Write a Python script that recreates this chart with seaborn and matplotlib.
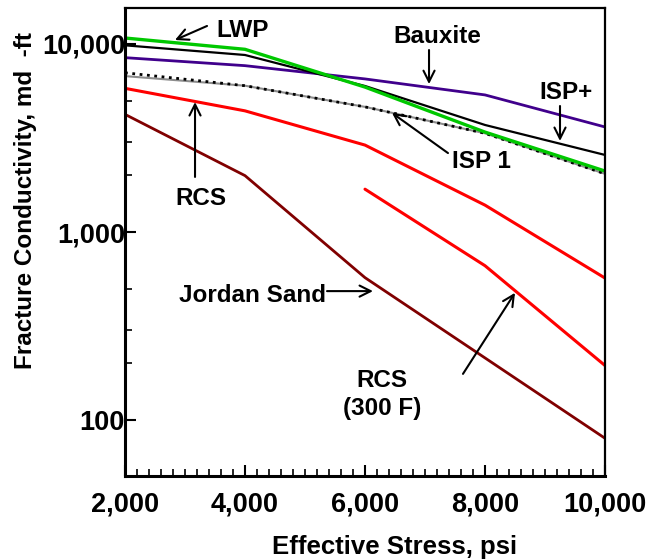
import matplotlib
matplotlib.use("Agg")
import matplotlib.pyplot as plt
import matplotlib.ticker as mticker
import pandas as pd
import seaborn as sns

# effective stress (psi) and conductivity (md-ft)
stress = [2000, 4000, 6000, 8000, 10000]
lwp = [10760, 9370, 5900, 3400, 2110]
isp_plus = [9840, 8740, 5980, 3710, 2570]
bauxite = [8460, 7670, 6520, 5360, 3620]
isp1 = [7030, 6000, 4630, 3350, 2040]
isp1_grey = [6750, 6000, 4630, 3350, 2040]
rcs = [5810, 4410, 2900, 1390, 569]
rcs_300f_stress = [6000, 8000, 10000]
rcs_300f = [1690, 662, 195]
jordan_sand = [4225, 1995, 572, 214, 80]

x_ticks = [2000, 4000, 6000, 8000, 10000]
y_ticks = [100, 1000, 10000]

sns.set_style("ticks")
plt.rcParams["font.family"] = ["Liberation Sans", "DejaVu Sans"]
plt.rcParams["font.weight"] = "bold"
plt.rcParams["text.color"] = "black"
plt.rcParams["axes.labelcolor"] = "black"
plt.rcParams["xtick.color"] = "black"
plt.rcParams["ytick.color"] = "black"

fig = plt.figure(figsize=(6.6, 5.6), dpi=100)
ax = fig.add_axes([125 / 660, 84 / 560, 480 / 660, 468 / 560])

series = [
    (stress, isp1_grey, "#8c8c8c", 1.5, "-"),
    (stress, isp1, "black", 2.0, ":"),
    (stress, bauxite, "#40008c", 2.0, "-"),
    (stress, isp_plus, "black", 1.6, "-"),
    (stress, lwp, "#00c800", 2.4, "-"),
    (stress, rcs, "#ff0000", 2.2, "-"),
    (rcs_300f_stress, rcs_300f, "#ff0000", 2.2, "-"),
    (stress, jordan_sand, "#800000", 2.0, "-"),
]
for xs, ys, color, lw, ls in series:
    df = pd.DataFrame({"stress": xs, "cond": ys})
    sns.lineplot(data=df, x="stress", y="cond", ax=ax, color=color,
                 linewidth=lw, linestyle=ls, sort=False)

ax.set_yscale("log")
ax.set_xlim(2000, 10000)
ax.set_ylim(50.4, 15540)

ax.set_xticks(x_ticks)
ax.xaxis.set_minor_locator(mticker.MultipleLocator(200))
ax.set_yticks(y_ticks)
ax.yaxis.set_minor_locator(mticker.LogLocator(base=10, subs=(2.0, 3.0, 5.0)))
ax.yaxis.set_minor_formatter(mticker.NullFormatter())
comma = mticker.FuncFormatter(lambda v, _: f"{int(v):,}")
ax.xaxis.set_major_formatter(comma)
ax.yaxis.set_major_formatter(comma)

ax.tick_params(axis="both", which="major", direction="in", length=8, width=1.5,
               labelsize=19.5, colors="black")
ax.tick_params(axis="both", which="minor", direction="in", length=5, width=1.2,
               colors="black")
ax.tick_params(axis="x", which="major", pad=11)
ax.tick_params(axis="y", which="major", pad=0)
for lab in ax.get_xticklabels() + ax.get_yticklabels():
    lab.set_fontweight("bold")

for side in ["left", "bottom"]:
    ax.spines[side].set_linewidth(2.2)
for side in ["top", "right"]:
    ax.spines[side].set_linewidth(1.6)
for spine in ax.spines.values():
    spine.set_color("black")

ax.set_xlabel("Effective Stress, psi", fontsize=18.5, fontweight="bold")
ax.set_ylabel("Fracture Conductivity, md  -ft", fontsize=17.5, fontweight="bold")
ax.xaxis.set_label_coords(0.5625, -0.152)
ax.yaxis.set_label_coords(-0.208, 0.588)
ax.xaxis.label.set_va("center")
ax.yaxis.label.set_va("center")

labels = [
    ("LWP", 3967, 11730),
    ("Bauxite", 7200, 10900),
    ("ISP+", 9350, 5490),
    ("ISP 1", 7933, 2360),
    ("RCS", 3267, 1500),
    ("Jordan Sand", 4117, 462),
    ("RCS\n(300 F)", 6283, 137),
]
for text, tx, ty in labels:
    ax.text(tx, ty, text, ha="center", va="center", fontsize=17.5,
            fontweight="bold", linespacing=1.3)

arrows = [
    ((3367, 12470), (2833, 10500)),
    ((7067, 9290), (7067, 6120)),
    ((9250, 4680), (9250, 3050)),
    ((7383, 2630), (6450, 4300)),
    ((3167, 1963), (3167, 4910)),
    ((5367, 485), (6133, 485)),
    ((7633, 176), (8500, 475)),
]
for tail, tip in arrows:
    ax.annotate("", xy=tip, xytext=tail,
                arrowprops=dict(arrowstyle="->", color="black", lw=1.5,
                                mutation_scale=20, shrinkA=0, shrinkB=0))

fig.savefig("out.png", dpi=100)
